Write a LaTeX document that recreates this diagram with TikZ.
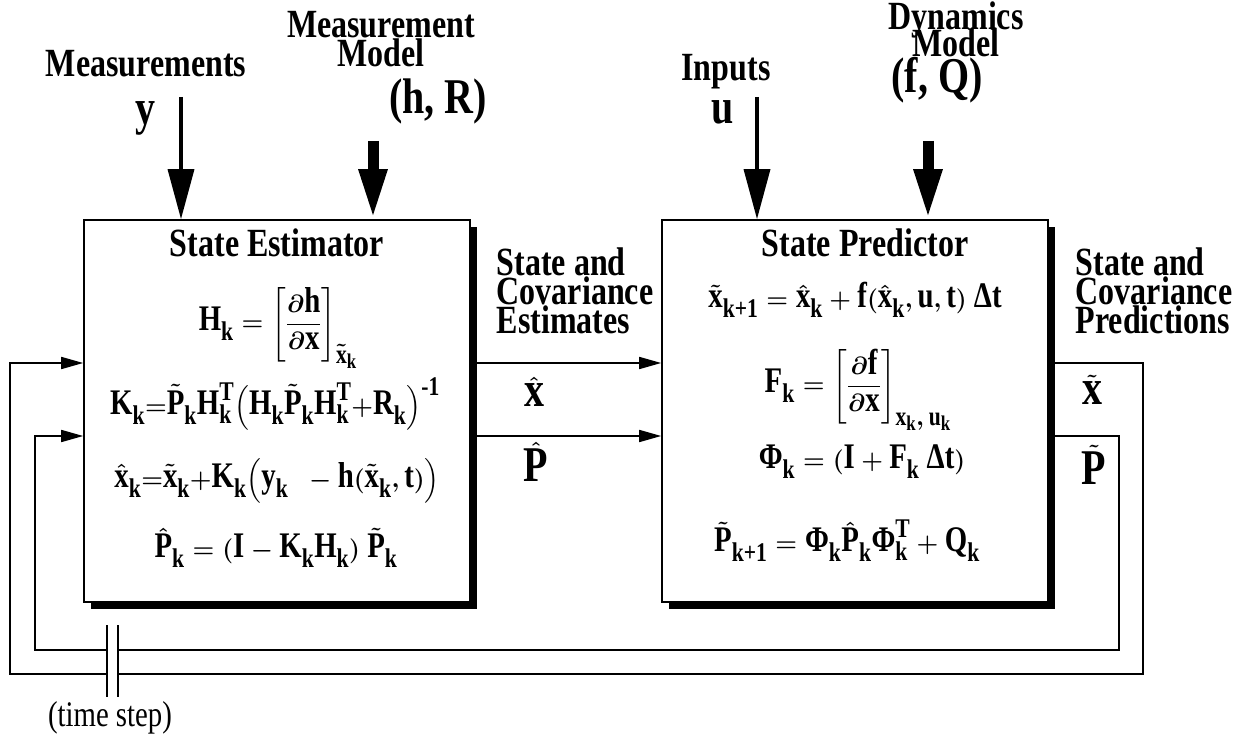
\documentclass[tikz,border=0pt]{standalone}
\usepackage{amsmath}
\usepackage{fontspec}
\setmainfont[FakeStretch=0.8]{Liberation Serif}
\usetikzlibrary{positioning,arrows.meta,shadows}
\DeclareMathSizes{36}{36}{27}{21}

\newcommand{\tx}[1]{\text{#1}}
\newcommand{\tk}[1]{\tx{#1}_{\tx{k}}}
\newcommand{\tld}[1]{\tilde{\tx{#1}}}
\newcommand{\hatx}[1]{\hat{\tx{#1}}}
\newcommand{\tightlines}{\lineskiplimit-50pt\relax}

\begin{document}
\begin{tikzpicture}[x=1pt,y=-1pt,
  blk/.style={draw,fill=white,line width=1.6pt,minimum width=386pt,minimum height=382pt,
    drop shadow={shadow xshift=7pt,shadow yshift=-7pt,fill=black,opacity=1}},
  lbl/.style={font={\fontsize{40}{29}\selectfont\bfseries\tightlines},inner sep=0pt},
  eq/.style={font=\fontsize{36}{36}\selectfont\bfseries\boldmath,inner sep=0pt},
  sym/.style={font=\fontsize{50}{50}\selectfont\bfseries\boldmath,inner sep=0pt},
  flow/.style={line width=1.6pt,-{Triangle[length=22pt,width=12pt]}},
  fb/.style={line width=1.6pt},
  sigin/.style={line width=3.5pt,-{Triangle[length=50pt,width=26pt]}},
  modin/.style={line width=11pt,-{Triangle[length=50pt,width=26pt]}}]
\useasboundingbox (0,0) rectangle (1235,735);
% the two blocks
\node[blk] (est) at (277,411) {};
\node[blk] (pred) at (855,411) {};
\node[lbl,below=9pt of est.north] (estt) {State Estimator};
\node[lbl,below=9pt of pred.north,xshift=10pt] (predt) {State Predictor};
% estimator equations
\node[eq] (hk) at (278,328) {$\tk{H} = \left[\dfrac{\partial\tx{h}}{\partial\tx{x}}\right]_{\tld{x}_{\tx{k}}}$};
\node[eq] (kk) at (275,404) {$\tk{K}{=}\tld{P}_{\tx{k}}\tk{H}^{\tx{T}}\Bigl(\tk{H}\tld{P}_{\tx{k}}\tk{H}^{\tx{T}}{+}\tk{R}\Bigr)^{\tx{-1}}$};
\node[eq] (xk) at (277,481) {$\hatx{x}_{\tx{k}}{=}\tld{x}_{\tx{k}}{+}\tk{K}\Bigl(\tk{y}\ \ -\tx{h}(\tld{x}_{\tx{k}},\tx{t})\Bigr)$};
\node[eq] (pk) at (276,548) {$\hatx{P}_{\tx{k}} = (\tx{I} - \tk{K}\tk{H})\ \tld{P}_{\tx{k}}$};
% predictor equations
\node[eq] (xp) at (855,300) {$\tld{x}_{\tx{k+1}} = \hatx{x}_{\tx{k}} + \tx{f}(\hatx{x}_{\tx{k}},\tx{u},\tx{t})\ \tx{Δt}$};
\node[eq] (fk) at (858,390) {$\tk{F} = \left[\dfrac{\partial\tx{f}}{\partial\tx{x}}\right]_{\tk{x},\,\tk{u}}$};
\node[eq] (phik) at (862,462) {$\tk{Φ} = (\tx{I} + \tk{F}\ \tx{Δt})$};
\node[eq] (pp) at (847,541) {$\tld{P}_{\tx{k+1}} = \tk{Φ}\hatx{P}_{\tx{k}}\tk{Φ}^{\tx{T}} + \tk{Q}$};
% inputs on top
\node[lbl] (meas) at (146,64) {Measurements};
\node[sym] (ysym) at (145,118) {y};
\node[lbl,align=center,anchor=north] (mm) at (381,11) {Measurement\\Model};
\node[sym] (hr) at (438,101) {(h, R)};
\node[lbl] (inp) at (726,72) {Inputs};
\node[sym] (usym) at (723,112) {u};
\node[lbl,align=center,anchor=north,font={\fontsize{40}{27}\selectfont\bfseries\tightlines}] (dm) at (956,2) {Dynamics\\Model};
\node[sym] (fq) at (937,80) {(f, Q)};
\coordinate (ytop) at (181,97);
\coordinate (hrtop) at (373,141);
\coordinate (utop) at (757,97);
\coordinate (fqtop) at (928,141);
\draw[sigin] (ytop) -- (est.north -| ytop);
\draw[modin] (hrtop) -- (est.north -| hrtop);
\draw[sigin] (utop) -- (pred.north -| utop);
\draw[modin] (fqtop) -- (pred.north -| fqtop);
% outputs
\node[lbl,align=left] (sce) at (575,291) {State and\\Covariance\\Estimates};
\node[sym] (xhat) at (534,392) {$\hatx{x}$};
\node[sym] (phat) at (536,462) {$\hatx{P}$};
\node[lbl,align=left] (scp) at (1154,291) {State and\\Covariance\\Predictions};
\node[sym] (xtil) at (1092,390) {$\tld{x}$};
\node[sym] (ptil) at (1094,465) {$\tld{P}$};
\coordinate (r1) at (0,363);
\coordinate (r2) at (0,436);
\draw[flow] (est.east |- r1) -- (pred.west |- r1);
\draw[flow] (est.east |- r2) -- (pred.west |- r2);
% feedback through the time step
\node[font=\fontsize{36}{36}\selectfont,inner sep=0pt] (ts) at (110,718) {(time step)};
\coordinate (bl) at (107,625);
\coordinate (br) at (118,625);
\coordinate (o1) at (1143,674);
\coordinate (o2) at (10,674);
\coordinate (i1) at (1119,650);
\coordinate (i2) at (35,650);
\draw[fb] (pred.east |- r1) -| (o1) -- (o1 -| br);
\draw[flow] (bl |- o1) -- (o2) |- (est.west |- r1);
\draw[fb] (pred.east |- r2) -| (i1) -- (i1 -| br);
\draw[flow] (bl |- i1) -- (i2) |- (est.west |- r2);
\draw[fb] (bl) -- ++(0,72);
\draw[fb] (br) -- ++(0,72);
\end{tikzpicture}
\end{document}
